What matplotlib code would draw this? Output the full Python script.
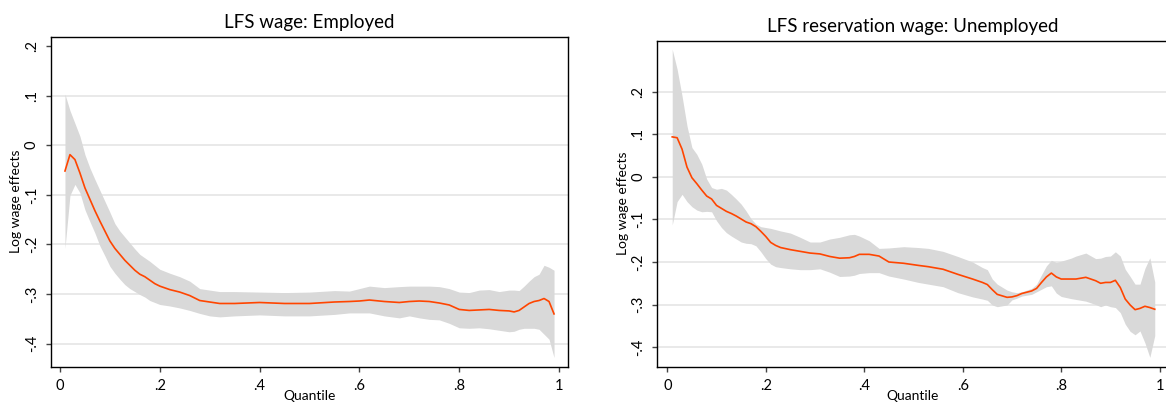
import matplotlib
matplotlib.use('Agg')
import matplotlib.pyplot as plt
from matplotlib.ticker import FuncFormatter

plt.rcParams['font.family'] = ['Lato', 'DejaVu Sans']

# LFS wage: Employed
q_emp = [0.01, 0.02, 0.03, 0.04, 0.05, 0.06, 0.07, 0.08, 0.09, 0.10,
         0.11, 0.12, 0.13, 0.14, 0.15, 0.16, 0.17, 0.18, 0.19, 0.20,
         0.22, 0.24, 0.26, 0.28, 0.30, 0.32, 0.35, 0.40, 0.45, 0.50,
         0.55, 0.58, 0.60, 0.62, 0.65, 0.68, 0.70, 0.72, 0.74, 0.76,
         0.78, 0.80, 0.82, 0.84, 0.86, 0.88, 0.90, 0.91, 0.92, 0.93,
         0.94, 0.95, 0.96, 0.97, 0.98, 0.99]
est_emp = [-0.052, -0.019, -0.029, -0.056, -0.086, -0.109, -0.132, -0.153, -0.173, -0.193,
           -0.208, -0.220, -0.232, -0.242, -0.252, -0.260, -0.265, -0.272, -0.279, -0.284,
           -0.291, -0.296, -0.303, -0.313, -0.316, -0.319, -0.319, -0.317, -0.319, -0.319,
           -0.316, -0.315, -0.314, -0.312, -0.315, -0.317, -0.315, -0.314, -0.315, -0.318,
           -0.322, -0.331, -0.333, -0.332, -0.331, -0.333, -0.334, -0.336, -0.333, -0.326,
           -0.319, -0.315, -0.313, -0.309, -0.315, -0.340]
hi_emp = [0.103, 0.070, 0.044, 0.018, -0.019, -0.046, -0.069, -0.091, -0.113, -0.135,
          -0.158, -0.173, -0.185, -0.197, -0.209, -0.220, -0.227, -0.234, -0.242, -0.250,
          -0.258, -0.265, -0.274, -0.289, -0.292, -0.295, -0.295, -0.296, -0.297, -0.296,
          -0.293, -0.294, -0.289, -0.284, -0.287, -0.285, -0.284, -0.284, -0.284, -0.285,
          -0.289, -0.296, -0.297, -0.292, -0.291, -0.295, -0.292, -0.292, -0.293, -0.284,
          -0.274, -0.265, -0.260, -0.242, -0.246, -0.252]
lo_emp = [-0.208, -0.101, -0.079, -0.096, -0.130, -0.154, -0.177, -0.203, -0.223, -0.244,
          -0.258, -0.270, -0.281, -0.289, -0.295, -0.301, -0.306, -0.313, -0.317, -0.321,
          -0.324, -0.328, -0.333, -0.339, -0.344, -0.346, -0.344, -0.342, -0.344, -0.344,
          -0.341, -0.338, -0.338, -0.338, -0.344, -0.348, -0.344, -0.348, -0.351, -0.352,
          -0.359, -0.368, -0.369, -0.368, -0.370, -0.373, -0.376, -0.375, -0.371, -0.369,
          -0.369, -0.369, -0.371, -0.381, -0.391, -0.428]

# LFS reservation wage: Unemployed
q_unemp = [0.01, 0.02, 0.03, 0.04, 0.05, 0.06, 0.07, 0.08, 0.09, 0.10,
           0.11, 0.12, 0.13, 0.14, 0.15, 0.16, 0.17, 0.18, 0.19, 0.20,
           0.21, 0.22, 0.23, 0.25, 0.27, 0.29, 0.31, 0.33, 0.35, 0.37,
           0.38, 0.39, 0.41, 0.43, 0.45, 0.48, 0.51, 0.53, 0.56, 0.59,
           0.62, 0.64, 0.65, 0.66, 0.67, 0.69, 0.70, 0.71, 0.72, 0.74,
           0.75, 0.76, 0.77, 0.78, 0.79, 0.80, 0.82, 0.83, 0.85, 0.87,
           0.88, 0.89, 0.90, 0.91, 0.92, 0.93, 0.94, 0.95, 0.96, 0.97,
           0.98, 0.99]
est_unemp = [0.094, 0.092, 0.065, 0.023, -0.002, -0.016, -0.031, -0.045, -0.052, -0.067,
             -0.074, -0.081, -0.086, -0.092, -0.099, -0.106, -0.110, -0.117, -0.128, -0.140,
             -0.154, -0.161, -0.166, -0.171, -0.175, -0.179, -0.181, -0.187, -0.191, -0.190,
             -0.187, -0.182, -0.182, -0.186, -0.200, -0.203, -0.208, -0.211, -0.217, -0.229,
             -0.240, -0.248, -0.253, -0.265, -0.276, -0.283, -0.282, -0.279, -0.274, -0.268,
             -0.262, -0.248, -0.235, -0.226, -0.235, -0.240, -0.240, -0.240, -0.236, -0.244,
             -0.250, -0.248, -0.248, -0.243, -0.260, -0.287, -0.301, -0.312, -0.309, -0.304,
             -0.307, -0.311]
hi_unemp = [0.300, 0.253, 0.190, 0.120, 0.069, 0.053, 0.030, -0.005, -0.025, -0.029,
            -0.027, -0.031, -0.041, -0.052, -0.064, -0.080, -0.098, -0.111, -0.117, -0.119,
            -0.121, -0.124, -0.127, -0.132, -0.142, -0.153, -0.153, -0.146, -0.142, -0.136,
            -0.135, -0.139, -0.150, -0.168, -0.167, -0.164, -0.166, -0.168, -0.175, -0.187,
            -0.200, -0.213, -0.218, -0.240, -0.252, -0.266, -0.270, -0.272, -0.270, -0.262,
            -0.252, -0.230, -0.209, -0.196, -0.201, -0.198, -0.191, -0.186, -0.179, -0.192,
            -0.191, -0.187, -0.186, -0.176, -0.186, -0.217, -0.234, -0.252, -0.252, -0.215,
            -0.190, -0.247]
lo_unemp = [-0.113, -0.058, -0.041, -0.058, -0.070, -0.078, -0.082, -0.081, -0.082, -0.103,
            -0.119, -0.131, -0.139, -0.146, -0.153, -0.156, -0.157, -0.162, -0.176, -0.192,
            -0.205, -0.211, -0.213, -0.216, -0.218, -0.218, -0.216, -0.224, -0.234, -0.233,
            -0.231, -0.227, -0.225, -0.225, -0.233, -0.240, -0.248, -0.252, -0.258, -0.272,
            -0.282, -0.287, -0.290, -0.301, -0.305, -0.301, -0.289, -0.285, -0.280, -0.276,
            -0.270, -0.264, -0.258, -0.256, -0.273, -0.281, -0.286, -0.288, -0.292, -0.300,
            -0.305, -0.301, -0.305, -0.307, -0.319, -0.346, -0.363, -0.371, -0.362, -0.390,
            -0.424, -0.373]

x_ticks = [0, 0.2, 0.4, 0.6, 0.8, 1]
y_ticks = [0.2, 0.1, 0, -0.1, -0.2, -0.3, -0.4]

line_col = '#ff4500'
band_col = '#d9d9d9'
grid_col = '#e3e3e3'


def stata_fmt(v, pos=None):
    s = '%g' % round(v, 3)
    if s.startswith('0.'):
        s = s[1:]
    elif s.startswith('-0.'):
        s = '-' + s[2:]
    return s


def panel(ax, q, est, lo, hi, title, xlim, ylim, nogrid=()):
    ax.fill_between(q, lo, hi, color=band_col, linewidth=0, zorder=2)
    ax.plot(q, est, color=line_col, linewidth=1.2, zorder=3)
    ax.set_xlim(xlim)
    ax.set_ylim(ylim)
    ax.set_xticks(x_ticks)
    ax.set_yticks(y_ticks)
    ax.xaxis.set_major_formatter(FuncFormatter(stata_fmt))
    ax.yaxis.set_major_formatter(FuncFormatter(stata_fmt))
    for v in y_ticks:
        if v not in nogrid:
            ax.axhline(v, color=grid_col, linewidth=1.1, zorder=1)
    ax.tick_params(axis='both', direction='out', length=3.5, width=1.0,
                   color='#444444', labelsize=10.5, labelcolor='black')
    ax.tick_params(axis='x', pad=5)
    ax.tick_params(axis='y', pad=5)
    for lab in ax.get_yticklabels():
        lab.set_rotation(90)
        lab.set_va('center')
    for sp in ax.spines.values():
        sp.set_linewidth(1.0)
        sp.set_color('black')
    ax.set_title(title, fontsize=13.5, pad=6)
    ax.set_xlabel('Quantile', fontsize=10, labelpad=-1.5)
    ax.set_ylabel('Log wage effects', fontsize=10, labelpad=2)


fig = plt.figure(figsize=(11.66, 4.07), dpi=100)
ax1 = fig.add_axes([0.04348, 0.09902, 0.44340, 0.81081])
ax2 = fig.add_axes([0.56372, 0.09902, 0.43834, 0.80098])

panel(ax1, q_emp, est_emp, lo_emp, hi_emp, 'LFS wage: Employed',
      (-0.0186, 1.0174), (-0.4464, 0.2187), nogrid=(0.2,))
panel(ax2, q_unemp, est_unemp, lo_unemp, hi_unemp, 'LFS reservation wage: Unemployed',
      (-0.0203, 1.0177), (-0.446, 0.32))

fig.savefig('out.png', dpi=100)
